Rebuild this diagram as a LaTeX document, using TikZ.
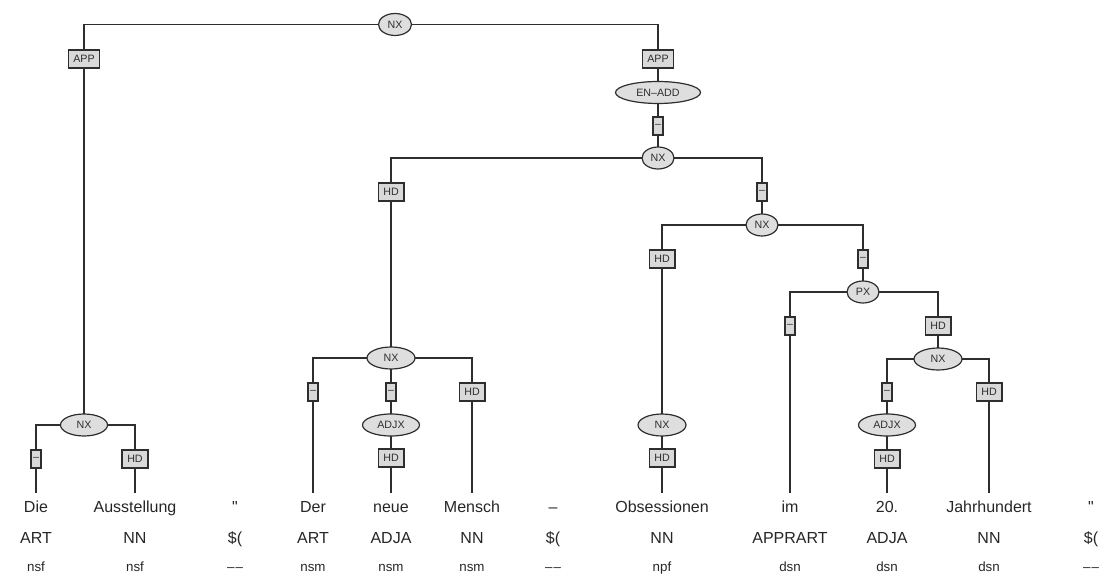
\documentclass[tikz,border=0pt]{standalone}
\usepackage{fontspec}
\setmainfont{Liberation Sans}
\newfontfamily\rawfont{Liberation Sans}[Ligatures=TeXOff]
\usetikzlibrary{shapes.geometric}
\pgfdeclarelayer{bg}
\pgfsetlayers{bg,main}
\definecolor{ln}{HTML}{2E2E2E}
\definecolor{boxfill}{HTML}{D9D9D9}
\definecolor{ellfill}{HTML}{DEDEDE}
\newcommand{\dd}{–\kern0.8pt–}
\newcommand{\qq}{{\rawfont"}}
\tikzset{
 cat/.style={ellipse, draw=ln, fill=ellfill, line width=0.9pt, minimum height=16.5pt, inner sep=0pt, font=\fontsize{8}{9}\selectfont, text=ln},
 lab/.style={rectangle, draw=ln, fill=boxfill, line width=0.9pt, minimum height=13.5pt, inner xsep=3.9pt, inner ysep=0pt, font=\fontsize{8}{9}\selectfont, text=ln},
 dlab/.style={lab, inner xsep=0pt, minimum width=7.5pt},
 word/.style={anchor=base, font=\fontsize{12}{14}\selectfont, text height=8.6pt, inner xsep=0pt, inner ysep=5.65pt, text=black!85},
 tag/.style={anchor=base, font=\fontsize{12}{14}\selectfont, inner sep=0pt, text=black!85},
 morph/.style={anchor=base, font=\fontsize{10}{12}\selectfont, inner sep=0pt, text=black!85},
 edge/.style={draw=ln, line width=0.9pt},
}
\begin{document}
\begin{tikzpicture}[x=0.75pt,y=-0.75pt]
\useasboundingbox (0,0) rectangle (1099,574);
% category nodes
\node[cat, minimum width=24.75pt] (n1) at (395,24.5) {NX};
\node[cat, minimum width=35.25pt] (n2) at (84,425) {NX};
\node[cat, minimum width=63.75pt] (en) at (658,92.5) {EN–ADD};
\node[cat, minimum width=24pt] (n3) at (658,158) {NX};
\node[cat, minimum width=36pt] (n4) at (391,358) {NX};
\node[cat, minimum width=42.75pt] (adj1) at (391,425) {ADJX};
\node[cat, minimum width=24pt] (n5) at (762,225) {NX};
\node[cat, minimum width=36pt] (n6) at (662,425) {NX};
\node[cat, minimum width=24pt] (px) at (863,292) {PX};
\node[cat, minimum width=36pt] (n7) at (938,359) {NX};
\node[cat, minimum width=42.75pt] (adj2) at (887,425) {ADJX};
% edge labels
\node[lab] (a1) at (84,59) {APP};
\node[lab] (a2) at (658,59) {APP};
\node[dlab] (b1) at (36,459) {–};
\node[lab] (b2) at (135,459) {HD};
\node[dlab] (c1) at (658,126) {–};
\node[lab] (d1) at (391,192) {HD};
\node[dlab] (d2) at (762,192) {–};
\node[dlab] (e1) at (313,392) {–};
\node[dlab] (e2) at (391,392) {–};
\node[lab] (f1) at (391,458) {HD};
\node[lab] (e3) at (472,392) {HD};
\node[lab] (g1) at (662,259) {HD};
\node[lab] (h1) at (662,458) {HD};
\node[dlab] (g2) at (863,259) {–};
\node[dlab] (i1) at (790,326) {–};
\node[lab] (i2) at (938,326) {HD};
\node[dlab] (j1) at (887,392) {–};
\node[lab] (k1) at (887,459) {HD};
\node[lab] (j2) at (989,392) {HD};
% words
\node[word] (w1) at (36,512) {Die};
\node[word] (w2) at (135,512) {Ausstellung};
\node[word] (w3) at (235,512) {\qq};
\node[word] (w4) at (313,512) {Der};
\node[word] (w5) at (391,512) {neue};
\node[word] (w6) at (472,512) {Mensch};
\node[word] (w7) at (553,512) {–};
\node[word] (w8) at (662,512) {Obsessionen};
\node[word] (w9) at (790,512) {im};
\node[word] (w10) at (887,512) {20.};
\node[word] (w11) at (989,512) {Jahrhundert};
\node[word] (w12) at (1091,512) {\qq};
% tags
\node[tag] (t1) at (36,543) {ART};
\node[tag] (t2) at (135,543) {NN};
\node[tag] (t3) at (235,543) {\$(};
\node[tag] (t4) at (313,543) {ART};
\node[tag] (t5) at (391,543) {ADJA};
\node[tag] (t6) at (472,543) {NN};
\node[tag] (t7) at (553,543) {\$(};
\node[tag] (t8) at (662,543) {NN};
\node[tag] (t9) at (790,543) {APPRART};
\node[tag] (t10) at (887,543) {ADJA};
\node[tag] (t11) at (989,543) {NN};
\node[tag] (t12) at (1091,543) {\$(};
% morphology
\node[morph] (m1) at (36,571) {nsf};
\node[morph] (m2) at (135,571) {nsf};
\node[morph] (m3) at (235,571) {\dd};
\node[morph] (m4) at (313,571) {nsm};
\node[morph] (m5) at (391,571) {nsm};
\node[morph] (m6) at (472,571) {nsm};
\node[morph] (m7) at (553,571) {\dd};
\node[morph] (m8) at (662,571) {npf};
\node[morph] (m9) at (790,571) {dsn};
\node[morph] (m10) at (887,571) {dsn};
\node[morph] (m11) at (989,571) {dsn};
\node[morph] (m12) at (1091,571) {\dd};
% connectors
\begin{pgfonlayer}{bg}
\draw[edge] (n1.center) -| (a1.center) -- (n2.center);
\draw[edge] (n1.center) -| (a2.center) -- (en.center);
\draw[edge] (n2.center) -| (b1.center) -- (w1.north);
\draw[edge] (n2.center) -| (b2.center) -- (w2.north);
\draw[edge] (en.center) -- (c1.center) -- (n3.center);
\draw[edge] (n3.center) -| (d1.center) -- (n4.center);
\draw[edge] (n3.center) -| (d2.center) -- (n5.center);
\draw[edge] (n4.center) -| (e1.center) -- (w4.north);
\draw[edge] (n4.center) -- (e2.center) -- (adj1.center) -- (f1.center) -- (w5.north);
\draw[edge] (n4.center) -| (e3.center) -- (w6.north);
\draw[edge] (n5.center) -| (g1.center) -- (n6.center) -- (h1.center) -- (w8.north);
\draw[edge] (n5.center) -| (g2.center) -- (px.center);
\draw[edge] (px.center) -| (i1.center) -- (w9.north);
\draw[edge] (px.center) -| (i2.center) -- (n7.center);
\draw[edge] (n7.center) -| (j1.center) -- (adj2.center) -- (k1.center) -- (w10.north);
\draw[edge] (n7.center) -| (j2.center) -- (w11.north);
\end{pgfonlayer}
\end{tikzpicture}
\end{document}
